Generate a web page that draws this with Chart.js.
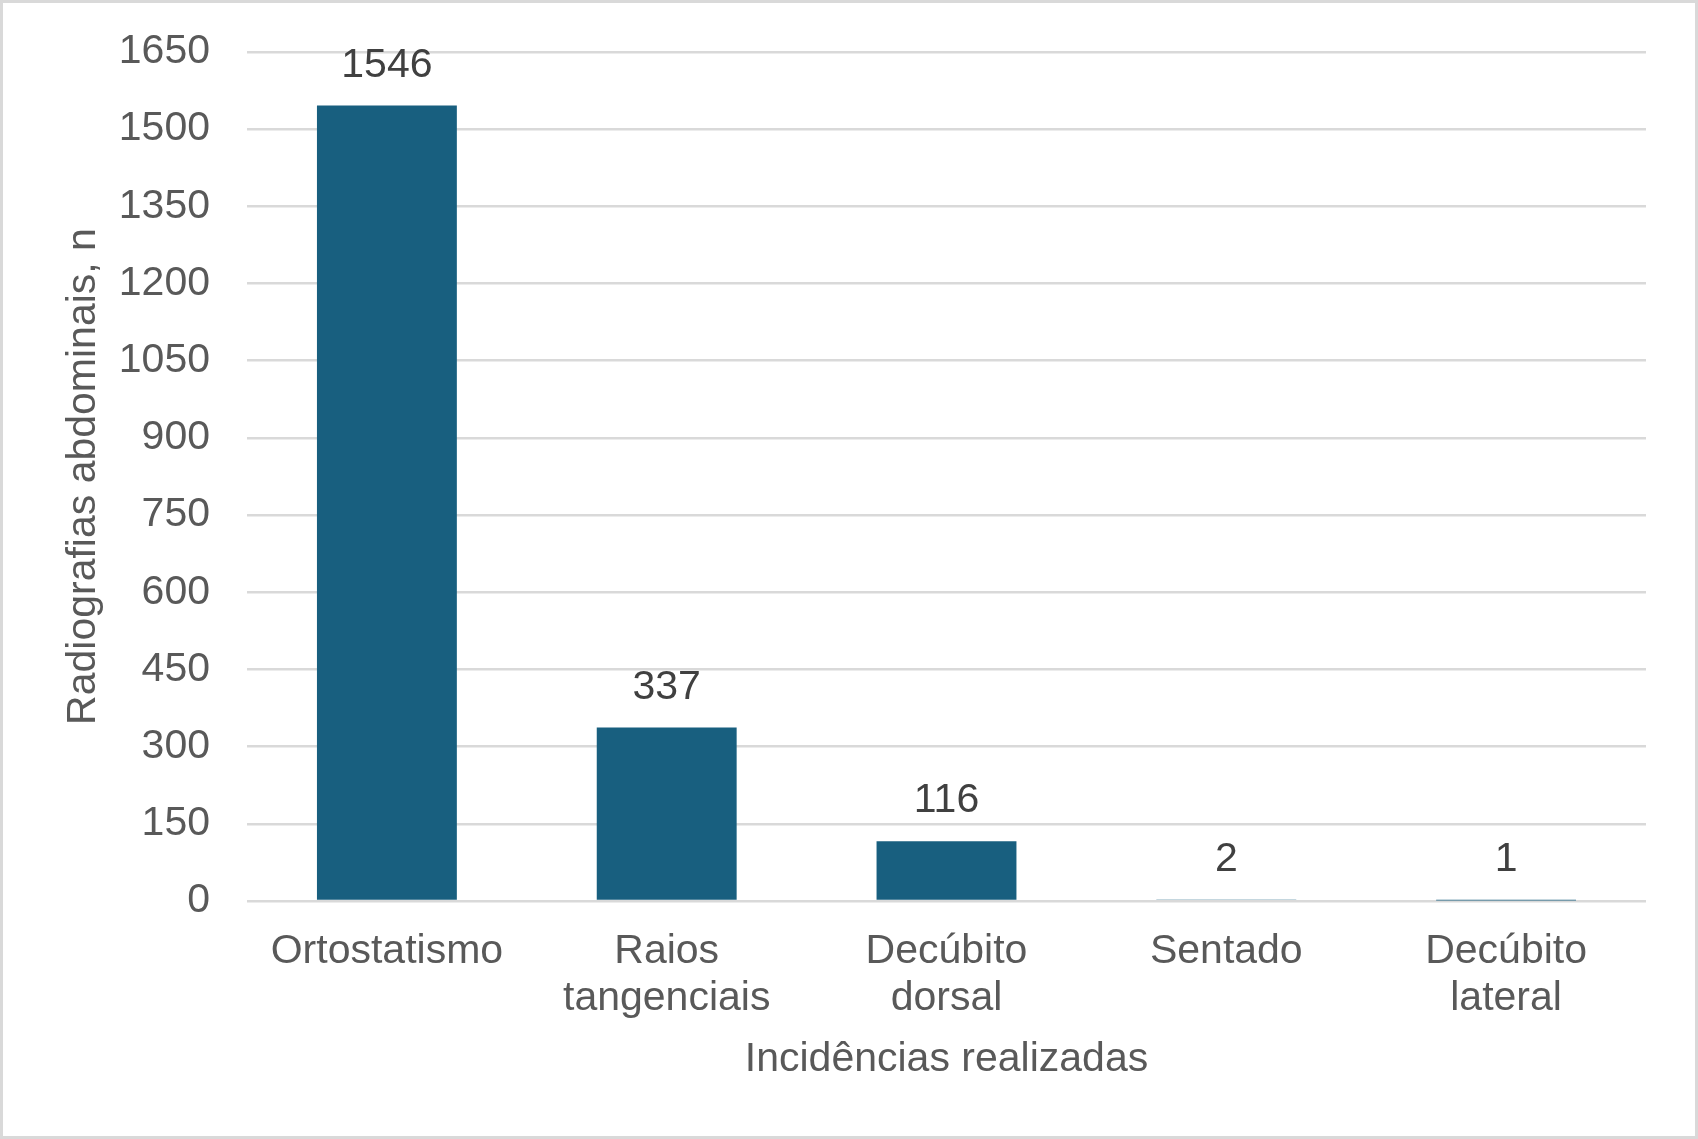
<!DOCTYPE html>
<html lang="pt">

<head>
    <meta charset="utf-8">
    <title>Incidências realizadas</title>
    <script src="https://cdn.jsdelivr.net/npm/chart.js@4.4.1/dist/chart.umd.min.js"></script>
    <style>
        body {
            margin: 0;
            padding: 0;
            background: #ffffff;
        }

        #chart-container {
            width: 1698px;
            height: 1139px;
            box-sizing: border-box;
            border: 3px solid #d9d9d9;
            background: #ffffff;
        }
    </style>
</head>

<body>
    <div id="chart-container">
        <canvas id="incidenciasChart"></canvas>
    </div>

    <script>
        // data
        const categories = ['Ortostatismo', ['Raios', 'tangenciais'], ['Decúbito', 'dorsal'], 'Sentado', ['Decúbito', 'lateral']];
        const radiografias = [1546, 337, 116, 2, 1];
        const yTicks = [0, 150, 300, 450, 600, 750, 900, 1050, 1200, 1350, 1500, 1650];

        const FONT = 'Liberation Sans, Arial, sans-serif';

        // draws the value above each bar
        const valueLabels = {
            id: 'valueLabels',
            afterDatasetsDraw(chart) {
                const ctx = chart.ctx;
                ctx.save();
                ctx.font = '41px ' + FONT;
                ctx.fillStyle = '#404040';
                ctx.textAlign = 'center';
                ctx.textBaseline = 'alphabetic';
                chart.getDatasetMeta(0).data.forEach((bar, i) => {
                    ctx.fillText(String(radiografias[i]), bar.x, bar.y - 29);
                });
                ctx.restore();
            }
        };

        const ctx = document.getElementById('incidenciasChart').getContext('2d');

        const chart = new Chart(ctx, {
            type: 'bar',
            data: {
                labels: categories,
                datasets: [{
                    label: 'Radiografias abdominais, n',
                    data: radiografias,
                    backgroundColor: '#185f7f',
                    borderWidth: 0,
                    categoryPercentage: 1,
                    barPercentage: 0.5
                }]
            },
            options: {
                responsive: true,
                maintainAspectRatio: false,
                animation: false,
                devicePixelRatio: 1,
                layout: {
                    padding: { top: 49, right: 49, left: 0, bottom: 0 }
                },
                plugins: {
                    legend: { display: false },
                    tooltip: { enabled: false }
                },
                scales: {
                    x: {
                        grid: { display: false, drawTicks: false },
                        border: { display: false },
                        ticks: {
                            color: '#595959',
                            padding: 28,
                            font: { family: FONT, size: 41, lineHeight: 1.13 },
                            maxRotation: 0,
                            autoSkip: false
                        },
                        title: {
                            display: true,
                            text: 'Incidências realizadas',
                            color: '#595959',
                            font: { family: FONT, size: 41, lineHeight: 1.2 },
                            padding: { top: 0, bottom: 52 }
                        },
                        afterFit(scale) {
                            scale.height = 235;
                        }
                    },
                    y: {
                        min: 0,
                        max: 1650,
                        afterBuildTicks(scale) {
                            scale.ticks = yTicks.map(v => ({ value: v }));
                        },
                        grid: {
                            color: '#d9d9d9',
                            lineWidth: 2.5,
                            drawTicks: true,
                            tickLength: 37,
                            tickColor: 'rgba(0,0,0,0)'
                        },
                        border: { display: false },
                        ticks: {
                            color: '#595959',
                            padding: 0,
                            font: { family: FONT, size: 41 },
                            callback: v => String(v)
                        },
                        title: {
                            display: true,
                            text: 'Radiografias abdominais, n',
                            color: '#595959',
                            font: { family: FONT, size: 41, lineHeight: 1.2 },
                            padding: { top: 56, bottom: 0 }
                        },
                        afterFit(scale) {
                            scale.width = 244;
                        }
                    }
                }
            },
            plugins: [valueLabels]
        });
    </script>
</body>

</html>
